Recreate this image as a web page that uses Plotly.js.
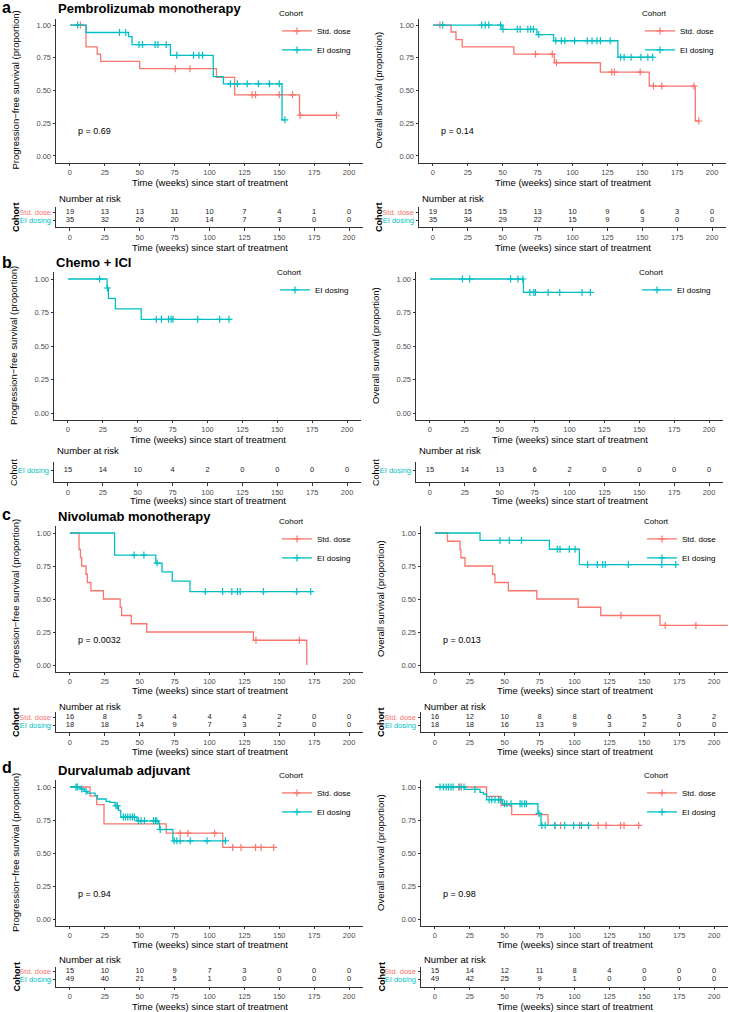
<!DOCTYPE html>
<html><head><meta charset="utf-8">
<script src="https://cdn.plot.ly/plotly-3.0.1.min.js"></script>
<style>html,body{margin:0;padding:0;background:#fff}</style>
</head><body><div id="chart" style="width:729px;height:1012px"></div>
<script>
// ================= DATA =================
const riskTimes = [0, 25, 50, 75, 100, 125, 150, 175, 200];
const xTickVals = [0, 25, 50, 75, 100, 125, 150, 175, 200];
const yTickVals = [0, 0.25, 0.5, 0.75, 1];
const cohortStd = 'Std. dose';
const cohortEI = 'EI dosing';

// a) Pembrolizumab monotherapy - PFS
const pemPfsStdTime = [0, 11.5, 19.5, 22, 50, 105, 118, 164.5, 191];
const pemPfsStdSurv = [1, 0.833, 0.778, 0.722, 0.667, 0.600, 0.467, 0.311, 0.311];
const pemPfsStdCens = [7.5, 75.5, 86, 130.5, 133, 150, 159.5, 165, 191];
const pemPfsEITime = [0, 11.5, 42, 44.5, 72, 102.7, 110, 152, 154];
const pemPfsEISurv = [1, 0.943, 0.912, 0.851, 0.769, 0.606, 0.551, 0.276, 0.276];
const pemPfsEICens = [5.5, 35.5, 40, 49.5, 52, 61, 63, 69, 76.5, 88.5, 92.5, 95, 115, 120, 127, 135, 143, 150, 154];
const pemPfsStdRisk = [19, 13, 13, 11, 10, 7, 4, 1, 0];
const pemPfsEIRisk = [35, 32, 26, 20, 14, 7, 3, 0, 0];
// a) Pembrolizumab monotherapy - OS
const pemOsStdTime = [0, 13, 16.5, 21, 58, 87, 120, 155, 188, 190.5];
const pemOsStdSurv = [1, 0.947, 0.889, 0.833, 0.778, 0.712, 0.641, 0.534, 0.267, 0.267];
const pemOsStdCens = [5, 73.5, 85.5, 88.5, 128, 130, 148.5, 158, 164, 187, 190.5];
const pemOsEITime = [0, 49.5, 74.5, 86.5, 132.5, 158];
const pemOsEISurv = [1, 0.967, 0.927, 0.880, 0.754, 0.754];
const pemOsEICens = [7, 35, 37.5, 40, 48.5, 50.2, 60.5, 62.5, 68, 70, 72, 75.8, 88, 92, 94.5, 101.5, 110.5, 114, 117.5, 120, 127, 134.5, 137, 142, 149, 154, 157.5];
const pemOsStdRisk = [19, 15, 15, 13, 10, 9, 6, 3, 0];
const pemOsEIRisk = [35, 34, 29, 22, 15, 9, 3, 0, 0];

// b) Chemo + ICI
const chemoPfsEITime = [0, 28, 29, 34, 52.5, 115.5];
const chemoPfsEISurv = [1, 0.933, 0.855, 0.777, 0.699, 0.699];
const chemoPfsEICens = [22.7, 28.3, 63.3, 67, 72, 74, 75.3, 93, 108.7, 115.4];
const chemoPfsEIRisk = [15, 14, 10, 4, 2, 0, 0, 0, 0];
const chemoOsEITime = [0, 67, 115];
const chemoOsEISurv = [1, 0.9, 0.9];
const chemoOsEICens = [23.3, 28.5, 57.8, 63, 66.6, 71.6, 74.4, 75.6, 84.7, 93, 109, 115];
const chemoOsEIRisk = [15, 14, 13, 6, 2, 0, 0, 0, 0];

// c) Nivolumab monotherapy
const nivoPfsStdTime = [0, 6.5, 7.5, 8.4, 11.5, 12.5, 15, 24, 36, 37, 44, 55, 131.5, 169.7];
const nivoPfsStdSurv = [1, 0.875, 0.8125, 0.75, 0.6875, 0.625, 0.5625, 0.5, 0.4375, 0.375, 0.3125, 0.25, 0.1875, 0];
const nivoPfsStdCens = [133.3, 164.4];
const nivoPfsEITime = [0, 32, 61.5, 66, 73.3, 86, 173];
const nivoPfsEISurv = [1, 0.833, 0.772, 0.706, 0.635, 0.556, 0.556];
const nivoPfsEICens = [46, 53, 62.5, 97, 109.4, 116, 120, 122, 138.6, 162.5, 172.5];
const nivoPfsStdRisk = [16, 8, 5, 4, 4, 4, 2, 0, 0];
const nivoPfsEIRisk = [18, 18, 14, 9, 7, 3, 2, 0, 0];
const nivoOsStdTime = [0, 9, 18, 18.6, 21.5, 41.3, 43, 52.6, 73, 102.7, 118.8, 161.3, 215];
const nivoOsStdSurv = [1, 0.9375, 0.875, 0.8125, 0.75, 0.6875, 0.625, 0.5625, 0.5, 0.4375, 0.375, 0.3, 0.3];
const nivoOsStdCens = [133.3, 165, 187];
const nivoOsEITime = [0, 32.3, 82, 103.5, 173];
const nivoOsEISurv = [1, 0.944, 0.877, 0.761, 0.761];
const nivoOsEICens = [46.6, 53.3, 62, 87.7, 89.6, 96.3, 100.4, 109.4, 116.4, 120.2, 122, 138.6, 162.5, 172.5];
const nivoOsStdRisk = [16, 12, 10, 8, 8, 6, 5, 3, 2];
const nivoOsEIRisk = [18, 18, 16, 13, 9, 3, 2, 0, 0];

// d) Durvalumab adjuvant
const durvaPfsStdTime = [0, 14.4, 19.2, 24.4, 69, 109.5, 146];
const durvaPfsStdSurv = [1, 0.933, 0.867, 0.72, 0.65, 0.542, 0.542];
const durvaPfsStdCens = [79, 84.5, 103.7, 116.6, 122.6, 133, 137, 146];
const durvaPfsEITime = [0, 7.2, 10.3, 12.5, 18, 19.6, 25.9, 28.7, 32.3, 34.7, 36.4, 48, 63.5, 64.2, 73.8, 111.4];
const durvaPfsEISurv = [1, 0.985, 0.967, 0.954, 0.934, 0.909, 0.891, 0.884, 0.858, 0.823, 0.772, 0.744, 0.727, 0.678, 0.592, 0.592];
const durvaPfsEICens = [4.3, 5.3, 8.4, 11.5, 33, 34, 38.3, 39.8, 41.4, 43.1, 44.8, 46.2, 49.1, 51, 53.4, 59.9, 61.3, 62.3, 64.7, 74.7, 76.6, 79, 86.2, 98.2, 111.4];
const durvaPfsStdRisk = [15, 10, 10, 9, 7, 3, 0, 0, 0];
const durvaPfsEIRisk = [49, 40, 21, 5, 1, 0, 0, 0, 0];
const durvaOsStdTime = [0, 37, 47.4, 55, 81, 146];
const durvaOsStdSurv = [1, 0.929, 0.861, 0.79, 0.709, 0.709];
const durvaOsStdCens = [17, 19, 86, 90, 103.7, 110, 117, 122.6, 133, 135.5, 146];
const durvaOsEITime = [0, 21.5, 32.3, 34.7, 37, 48.4, 73.8, 76, 110];
const durvaOsEISurv = [1, 0.982, 0.96, 0.947, 0.904, 0.873, 0.80, 0.709, 0.709];
const durvaOsEICens = [3.6, 6, 8, 9.6, 11.5, 13, 17.9, 20.8, 28.7, 38.8, 40.7, 43, 45.5, 46.7, 49.8, 51.5, 54.5, 61, 62.3, 64.2, 65.5, 74.6, 76.6, 79, 86, 93, 99.4, 105, 110];
const durvaOsStdRisk = [15, 14, 12, 11, 8, 4, 0, 0, 0];
const durvaOsEIRisk = [49, 42, 25, 9, 1, 0, 0, 0, 0];

const panelTitles = ['Pembrolizumab monotherapy', 'Chemo + ICI', 'Nivolumab monotherapy', 'Durvalumab adjuvant'];
const panelLetters = ['a', 'b', 'c', 'd'];
const pfsTitle = 'Progression\u2212free survival (proportion)';
const osTitle = 'Overall survival (proportion)';
const xTitle = 'Time (weeks) since start of treatment';

// ================= STYLE / GEOMETRY =================
const W = 729, H = 1012;
const FONT = 'Liberation Sans, Arial, sans-serif';
const COL = {};
COL[cohortStd] = '#F8766D';
COL[cohortEI] = '#00BFC4';
const AX = '#333333', TXT = '#4D4D4D';
const px = v => v / W;
const py = v => 1 - v / H;

const rows = [
  {km: [18.5, 162.5], risk: [207, 227], nar: 199, title: 9, letter: 8, legend: 6, xt: 183, rxt: 247, boldCohort: true, cols: [[56, 363], [419, 726]]},
  {km: [272.3, 419.7], risk: [462, 482], nar: 450, title: 262, letter: 263, legend: 265, xt: 439.5, rxt: 500, boldCohort: false, cols: [[54, 361], [416, 723]]},
  {km: [526.4, 671.6], risk: [712, 732], nar: 706, title: 516, letter: 514, legend: 514, xt: 690, rxt: 751, boldCohort: true, cols: [[56, 363], [421, 728]]},
  {km: [780.4, 925.6], risk: [966.5, 986.5], nar: 959, title: 770, letter: 767, legend: 768, xt: 944, rxt: 1006.5, boldCohort: true, cols: [[56, 363], [421, 728]]}
];

const panels = [
  {row: 0, col: 0, ytitle: pfsTitle, pval: 'p = 0.69', series: [
    {name: cohortStd, t: pemPfsStdTime, s: pemPfsStdSurv, c: pemPfsStdCens, risk: pemPfsStdRisk},
    {name: cohortEI, t: pemPfsEITime, s: pemPfsEISurv, c: pemPfsEICens, risk: pemPfsEIRisk}]},
  {row: 0, col: 1, ytitle: osTitle, pval: 'p = 0.14', series: [
    {name: cohortStd, t: pemOsStdTime, s: pemOsStdSurv, c: pemOsStdCens, risk: pemOsStdRisk},
    {name: cohortEI, t: pemOsEITime, s: pemOsEISurv, c: pemOsEICens, risk: pemOsEIRisk}]},
  {row: 1, col: 0, ytitle: pfsTitle, pval: null, series: [
    {name: cohortEI, t: chemoPfsEITime, s: chemoPfsEISurv, c: chemoPfsEICens, risk: chemoPfsEIRisk}]},
  {row: 1, col: 1, ytitle: osTitle, pval: null, series: [
    {name: cohortEI, t: chemoOsEITime, s: chemoOsEISurv, c: chemoOsEICens, risk: chemoOsEIRisk}]},
  {row: 2, col: 0, ytitle: pfsTitle, pval: 'p = 0.0032', series: [
    {name: cohortStd, t: nivoPfsStdTime, s: nivoPfsStdSurv, c: nivoPfsStdCens, risk: nivoPfsStdRisk},
    {name: cohortEI, t: nivoPfsEITime, s: nivoPfsEISurv, c: nivoPfsEICens, risk: nivoPfsEIRisk}]},
  {row: 2, col: 1, ytitle: osTitle, pval: 'p = 0.013', series: [
    {name: cohortStd, t: nivoOsStdTime, s: nivoOsStdSurv, c: nivoOsStdCens, risk: nivoOsStdRisk},
    {name: cohortEI, t: nivoOsEITime, s: nivoOsEISurv, c: nivoOsEICens, risk: nivoOsEIRisk}]},
  {row: 3, col: 0, ytitle: pfsTitle, pval: 'p = 0.94', series: [
    {name: cohortStd, t: durvaPfsStdTime, s: durvaPfsStdSurv, c: durvaPfsStdCens, risk: durvaPfsStdRisk},
    {name: cohortEI, t: durvaPfsEITime, s: durvaPfsEISurv, c: durvaPfsEICens, risk: durvaPfsEIRisk}]},
  {row: 3, col: 1, ytitle: osTitle, pval: 'p = 0.98', series: [
    {name: cohortStd, t: durvaOsStdTime, s: durvaOsStdSurv, c: durvaOsStdCens, risk: durvaOsStdRisk},
    {name: cohortEI, t: durvaOsEITime, s: durvaOsEISurv, c: durvaOsEICens, risk: durvaOsEIRisk}]}
];

function survAt(t, times, surv) {
  let v = surv[0];
  for (let i = 0; i < times.length; i++) if (times[i] <= t) v = surv[i];
  return v;
}

const traces = [];
const annotations = [];
const layout = {
  width: W, height: H, margin: {l: 0, r: 0, t: 0, b: 0},
  paper_bgcolor: '#fff', plot_bgcolor: '#fff',
  font: {family: FONT, color: '#000'},
  annotations: annotations
};

function ann(text, x, y, opts) {
  annotations.push(Object.assign({text: text, x: px(x), y: py(y), xref: 'paper', yref: 'paper',
    showarrow: false, xanchor: 'center', yanchor: 'middle',
    font: {family: FONT, size: 9.5, color: '#000'}}, opts || {}));
}

const baseAxis = {
  showline: true, linecolor: AX, linewidth: 1, ticks: 'outside', ticklen: 2.5, tickcolor: AX, tickwidth: 1,
  showgrid: false, zeroline: false, fixedrange: true,
  tickfont: {family: FONT, size: 7.5, color: TXT}
};

panels.forEach((p, i) => {
  const g = rows[p.row];
  const xd = g.cols[p.col];
  const nK = 2 * i + 1, nR = 2 * i + 2;
  const legName = i === 0 ? 'legend' : 'legend' + (i + 1);

  // KM axes
  layout['xaxis' + nK] = Object.assign({}, baseAxis, {domain: [px(xd[0]), px(xd[1])], range: [-10, 210],
    anchor: 'y' + nK, tickmode: 'array', tickvals: xTickVals});
  layout['yaxis' + nK] = Object.assign({}, baseAxis, {domain: [py(g.km[1]), py(g.km[0])], range: [-0.05, 1.05],
    anchor: 'x' + nK, tickmode: 'array', tickvals: yTickVals, tickformat: '.2f'});

  // Risk table axes
  const cats = p.series.map(s => s.name).reverse();
  const twoRows = cats.length === 2;
  layout['xaxis' + nR] = Object.assign({}, baseAxis, {domain: [px(xd[0]), px(xd[1])], range: [-10, 210],
    anchor: 'y' + nR, tickmode: 'array', tickvals: xTickVals});
  layout['yaxis' + nR] = Object.assign({}, baseAxis, {domain: [py(g.risk[1]), py(g.risk[0])],
    type: 'category', categoryorder: 'array', categoryarray: cats,
    range: twoRows ? [-0.875, 1.625] : [-1.5, 1.0], anchor: 'x' + nR,
    tickmode: 'array', tickvals: cats,
    ticktext: cats.map(c => '<span style="color:' + COL[c] + '">' + c + '</span>')});

  p.series.forEach(s => {
    const col = COL[s.name];
    traces.push({type: 'scatter', mode: 'lines', x: s.t, y: s.s, xaxis: 'x' + nK, yaxis: 'y' + nK,
      line: {shape: 'hv', color: col, width: 1.3}, showlegend: false, hoverinfo: 'skip'});
    const cx = [], cy = [];
    s.c.forEach(t => { cx.push(t, null); cy.push(survAt(t, s.t, s.s), null); });
    traces.push({type: 'scatter', mode: 'lines+markers', x: cx, y: cy, xaxis: 'x' + nK, yaxis: 'y' + nK,
      name: s.name, legend: legName, showlegend: true, connectgaps: false, hoverinfo: 'skip', cliponaxis: false,
      line: {color: col, width: 1.3},
      marker: {symbol: 'cross-thin', size: 5, color: col, line: {color: col, width: 1.2}}});
    traces.push({type: 'scatter', mode: 'text', x: riskTimes, y: riskTimes.map(() => s.name),
      text: s.risk.map(String), xaxis: 'x' + nR, yaxis: 'y' + nR, showlegend: false, hoverinfo: 'skip',
      cliponaxis: false, textposition: 'middle center',
      textfont: {family: FONT, size: 7.5, color: '#1a1a1a'}});
  });

  // legend
  layout[legName] = {x: px(xd[0] + 221), y: py(g.legend), xanchor: 'left', yanchor: 'top',
    bgcolor: 'rgba(0,0,0,0)', borderwidth: 0, traceorder: 'normal',
    title: {text: 'Cohort', font: {family: FONT, size: 8, color: '#000'}},
    font: {family: FONT, size: 8, color: '#000'}};

  // annotations
  const cx = (xd[0] + xd[1]) / 2;
  ann(p.ytitle, xd[0] - 41, (g.km[0] + g.km[1]) / 2, {textangle: -90});
  ann(xTitle, cx, g.xt);
  ann(xTitle, cx, g.rxt);
  ann('Number at risk', xd[0] + 1, g.nar, {xanchor: 'left'});
  ann(g.boldCohort ? '<b>Cohort</b>' : 'Cohort', xd[0] - 40, (g.risk[0] + g.risk[1]) / 2,
    {textangle: -90, font: {family: FONT, size: 9, color: '#000'}});
  if (p.pval) {
    annotations.push({text: p.pval, x: 4, y: 0.19, xref: 'x' + nK, yref: 'y' + nK, showarrow: false,
      xanchor: 'left', yanchor: 'middle', font: {family: FONT, size: 9, color: '#000'}});
  }
  if (p.col === 0) {
    ann('<b>' + panelTitles[p.row] + '</b>', xd[0], g.title, {xanchor: 'left', font: {family: FONT, size: 13, color: '#000'}});
    ann('<b>' + panelLetters[p.row] + '</b>', 0, g.letter, {xanchor: 'left', font: {family: FONT, size: 16, color: '#000'}});
  }
});

Plotly.newPlot('chart', traces, layout, {displayModeBar: false, staticPlot: true});
</script>
</body></html>
